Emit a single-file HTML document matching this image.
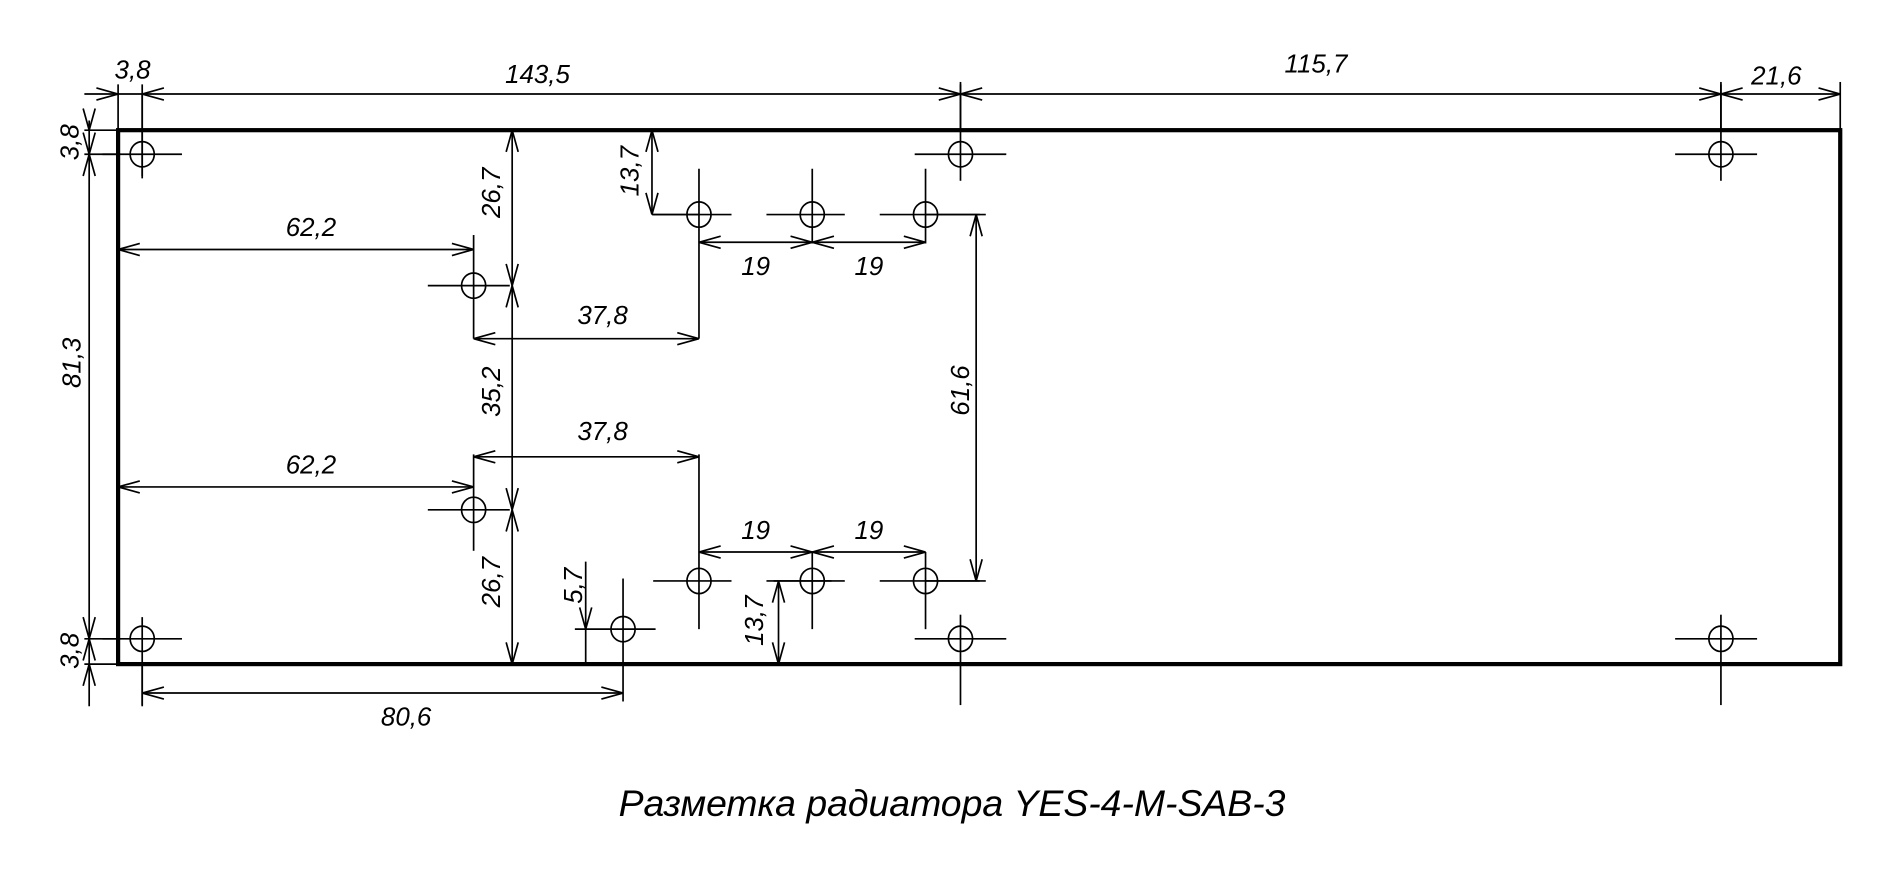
<!DOCTYPE html>
<html><head><meta charset="utf-8"><style>
html,body{margin:0;padding:0;background:#fff;}
svg{display:block;}
text{font-family:"Liberation Sans",sans-serif;font-style:italic;fill:#000;}
</style></head><body>
<svg id="s" width="1880" height="869" viewBox="0 0 1560 721" preserveAspectRatio="none" xmlns="http://www.w3.org/2000/svg">
<g id="g" stroke="#000" stroke-width="1.4" fill="none"></g>
<rect x="98" y="108" width="1429" height="443" fill="none" stroke="#000" stroke-width="3.5"/>
<g font-size="21.5" text-anchor="middle">
<text x="110" y="65">3,8</text>
<text x="446" y="69">143,5</text>
<text x="1092" y="60">115,7</text>
<text x="1474" y="70">21,6</text>
<text x="258" y="196">62,2</text>
<text x="258" y="393">62,2</text>
<text x="500" y="269">37,8</text>
<text x="500" y="365">37,8</text>
<text x="627" y="228">19</text>
<text x="721" y="228">19</text>
<text x="627" y="447">19</text>
<text x="721" y="447">19</text>
<text x="337" y="602">80,6</text>
<text transform="translate(65,118) rotate(-90)">3,8</text>
<text transform="translate(65,540) rotate(-90)">3,8</text>
<text transform="translate(67,301) rotate(-90)">81,3</text>
<text transform="translate(415,160) rotate(-90)">26,7</text>
<text transform="translate(415,325) rotate(-90)">35,2</text>
<text transform="translate(415,483) rotate(-90)">26,7</text>
<text transform="translate(530,142) rotate(-90)">13,7</text>
<text transform="translate(633,515) rotate(-90)">13,7</text>
<text transform="translate(483,486) rotate(-90)">5,7</text>
<text transform="translate(804,324) rotate(-90)">61,6</text>
</g>
<text x="790" y="677" font-size="31" text-anchor="middle" font-family="'Liberation Sans','DejaVu Sans',sans-serif">Разметка радиатора YES-4-M-SAB-3</text>
</svg>
<script>
var g=document.getElementById('g'),NS='http://www.w3.org/2000/svg';
function L(a,b,c,d){var e=document.createElementNS(NS,'line');e.setAttribute('x1',a);e.setAttribute('y1',b);e.setAttribute('x2',c);e.setAttribute('y2',d);g.appendChild(e);}
function C(x,y){var e=document.createElementNS(NS,'ellipse');e.setAttribute('cx',x);e.setAttribute('cy',y);e.setAttribute('rx',10);e.setAttribute('ry',10.5);g.appendChild(e);}
function A(x,y,dx,dy){var l=18,w=5;var bx=x-dx*l,by=y-dy*l;L(x,y,bx-dy*w,by+dx*w);L(x,y,bx+dy*w,by-dx*w);}
function D(x1,y1,x2,y2){L(x1,y1,x2,y2);var len=Math.hypot(x2-x1,y2-y1),dx=(x2-x1)/len,dy=(y2-y1)/len;A(x2,y2,dx,dy);A(x1,y1,-dx,-dy);}
function H(x,y,h1,h2,v1,v2){C(x,y);L(x-h1,y,x+h2,y);L(x,y-v1,x,y+v2);}
H(118,128,33,33,50,18); L(118,70,118,148);
H(797,128,38,38,58,22);
H(1428,128,38,30,58,22);
H(118,530,33,33,18,55);
H(797,530,38,38,20,55);
H(1428,530,38,30,20,55);
H(393,237,38,30,42,0); L(393,237,393,281);
H(393,423,38,30,46,0); L(393,423,393,457);
H(580,178,38,27,38,0); L(580,178,580,281);
H(674,178,38,27,38,24);
H(768,178,38,45,38,24);
H(580,482,38,27,0,40); L(580,482,580,377);
H(674,482,38,27,24,40);
H(768,482,38,45,24,40);
H(517,522,40,27,42,60);
L(70,78,1527,78);
L(98,70,98,108);L(1527,68,1527,108);L(797,68,797,108);L(1428,68,1428,108);
A(98,78,1,0);A(118,78,-1,0);
A(797,78,1,0);A(797,78,-1,0);A(1428,78,1,0);A(1428,78,-1,0);A(1527,78,1,0);
L(74,100,74,586);
L(70,108,98,108);L(70,128,100,128);L(70,530,100,530);L(70,551,98,551);
A(74,108,0,1);A(74,128,0,-1);A(74,128,0,1);A(74,530,0,-1);A(74,530,0,1);A(74,551,0,-1);
D(98,207,393,207);D(98,404,393,404);
D(425,108,425,237);D(425,237,425,423);D(425,423,425,551);
D(393,281,580,281);D(393,379,580,379);
D(580,201,674,201);D(674,201,768,201);D(580,458,674,458);D(674,458,768,458);
L(541,178,580,178);D(541,108,541,178);
L(642,482,690,482);D(646,482,646,551);
L(486,466,486,551);A(486,522,0,1);
L(768,178,818,178);L(768,482,818,482);D(810,178,810,482);
L(118,551,118,586);D(118,575,517,575);
</script>
</body></html>
